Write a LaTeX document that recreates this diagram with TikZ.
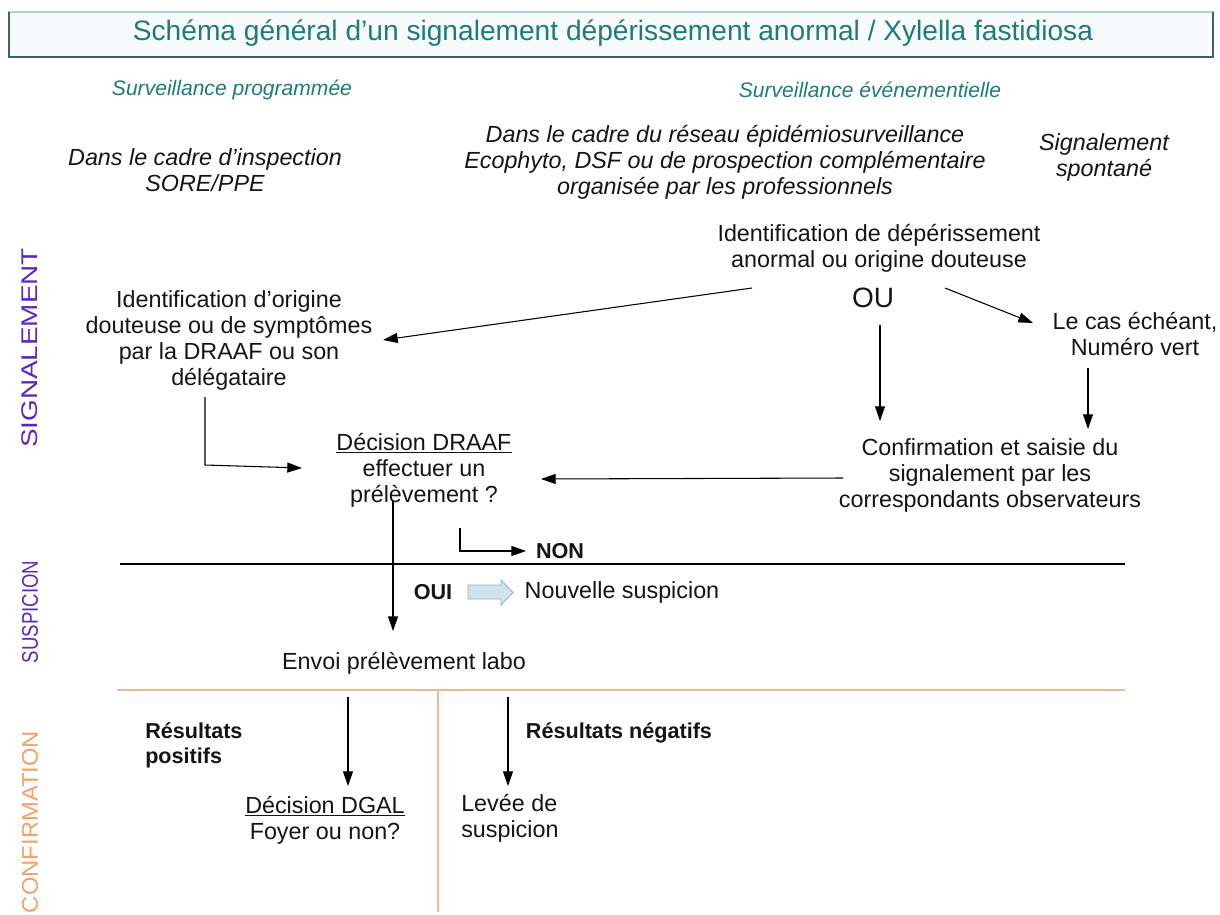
\documentclass[tikz,border=0pt]{standalone}
\usepackage{fontspec}
\setmainfont{Liberation Sans}
\usetikzlibrary{arrows.meta}
\definecolor{tealtxt}{RGB}{30,123,120}
\definecolor{boxline}{RGB}{170,210,210}
\definecolor{boxdark}{RGB}{60,100,100}
\definecolor{purp}{RGB}{88,40,190}
\definecolor{orng}{RGB}{244,160,104}
\definecolor{orline}{RGB}{240,184,144}
\definecolor{blkfill}{RGB}{208,228,240}
\definecolor{blkline}{RGB}{140,175,200}
\begin{document}
\begin{tikzpicture}[x=0.75pt,y=-0.75pt,
  txt/.style={font=\fontsize{17.5}{19.5}\selectfont, align=center, inner sep=0pt, text=black!92},
  itxt/.style={txt, font=\fontsize{17.5}{19.5}\selectfont\itshape},
  htxt/.style={txt, font=\fontsize{15.8}{19.5}\selectfont\itshape, text=tealtxt},
  btxt/.style={txt, font=\fontsize{16.2}{19}\selectfont\bfseries},
  arr/.style={-{Triangle[length=11pt,width=7.5pt]}, line width=0.8pt},
  side/.style={rotate=90, inner sep=0pt, font=\fontsize{17}{20}\selectfont}]
\useasboundingbox (0,0) rectangle (1220,914);
% title box
\draw[boxline, fill=white!97!teal, line width=0.8pt] (9,12) rectangle (1213,57);
\draw[boxdark, line width=0.8pt] (9,12) -- (9,57) -- (1213,57) -- (1213,12);
\node[font=\fontsize{21.1}{24}\selectfont, text=tealtxt, inner sep=0pt] (title) at (613,33) {Schéma général d’un signalement dépérissement anormal / Xylella fastidiosa};

% side labels
\node[side, text=purp] (sig) at (30,348) {\scalebox{1.23}[1]{SIGNALEMENT}};
\node[side, text=purp] (sus) at (30,612) {\scalebox{0.82}[1]{SUSPICION}};
\node[side, text=orng] (cnf) at (30,822) {\scalebox{1.05}[1]{CONFIRMATION}};

% headings
\node[htxt] (sp) at (232,90) {Surveillance programmée};
\node[htxt] (se) at (870,90) {Surveillance événementielle};
\node[itxt] (dci) at (205,170) {Dans le cadre d’inspection\\SORE/PPE};
\node[itxt] (dcr) at (725,162) {Dans le cadre du réseau épidémiosurveillance\\Ecophyto, DSF ou de prospection complémentaire\\organisée par les professionnels};
\node[itxt] (ss) at (1104,157) {Signalement\\spontané};

% body nodes
\node[txt] (idd) at (879,248) {Identification de dépérissement\\anormal ou origine douteuse};
\node[txt, font=\fontsize{21}{24}\selectfont] (ou) at (873,298) {OU};
\node[txt] (ido) at (229,340) {Identification d’origine\\douteuse ou de symptômes\\par la DRAAF ou son\\délégataire};
\node[txt] (lce) at (1135,334) {Le cas échéant,\\Numéro vert};
\node[txt] (dd) at (424,470) {\underline{Décision DRAAF}\\effectuer un\\prélèvement ?};
\node[txt] (conf) at (990,475) {Confirmation et saisie du\\signalement par les\\correspondants observateurs};
\node[btxt] (non) at (560,551) {NON};
\node[btxt] (oui) at (433,592) {OUI};
\node[txt] (nsu) at (622,592) {Nouvelle suspicion};
\node[txt] (env) at (404,663) {Envoi prélèvement labo};
\node[btxt, align=left, anchor=west] (rp) at (145,745) {Résultats\\positifs};
\node[btxt] (rn) at (619,733) {Résultats négatifs};
\node[txt] (dg) at (325,820) {\underline{Décision DGAL}\\Foyer ou non?};
\node[txt, align=left, anchor=west] (lev) at (461,818) {Levée de\\suspicion};

% separator lines
\coordinate (l1a) at (120,564); \coordinate (l1b) at (1125,564);
\draw[line width=0.8pt] (l1a) -- (l1b);
\coordinate (l2a) at (117,690); \coordinate (l2b) at (1125,690);
\coordinate (l2c) at (438,690); \coordinate (l2d) at (438,912);
\draw[orline, line width=0.9pt] (l2a) -- (l2b);
\draw[orline, line width=0.9pt] (l2c) -- (l2d);

% block arrow (shape)
\draw[blkline, fill=blkfill, line width=0.6pt] (468,585) -- (501,585) -- (501,580) -- (513,592.5) -- (501,605) -- (501,599) -- (468,599) -- cycle;

% connector coordinates
\coordinate (a1s) at (752,288); \coordinate (a1e) at (383,340);
\coordinate (a2s) at (945,288); \coordinate (a2e) at (1033,323);
\coordinate (a3s) at (880,325); \coordinate (a3e) at (880,421);
\coordinate (a4s) at (1088,368); \coordinate (a4e) at (1088,429);
\coordinate (a5s) at (843,478); \coordinate (a5e) at (541,479);
\coordinate (a6s) at (205,397); \coordinate (a6m) at (205,465); \coordinate (a6e) at (302,468);
\coordinate (a7s) at (460,528); \coordinate (a7e) at (526,551);
\coordinate (a8s) at (393,500); \coordinate (a8e) at (393,631);
\coordinate (a9s) at (348,697); \coordinate (a9e) at (348,786);
\coordinate (a10s) at (508,697); \coordinate (a10e) at (508,786);

\draw[arr] (a1s) -- (a1e);
\draw[arr] (a2s) -- (a2e);
\draw[arr] (a3s) -- (a3e);
\draw[arr] (a4s) -- (a4e);
\draw[arr] (a5s) -- (a5e);
\draw[arr] (a6s) -- (a6m) -- (a6e);
\draw[arr] (a7s) |- (a7e);
\draw[arr] (a8s) -- (a8e);
\draw[arr] (a9s) -- (a9e);
\draw[arr] (a10s) -- (a10e);
\end{tikzpicture}
\end{document}
